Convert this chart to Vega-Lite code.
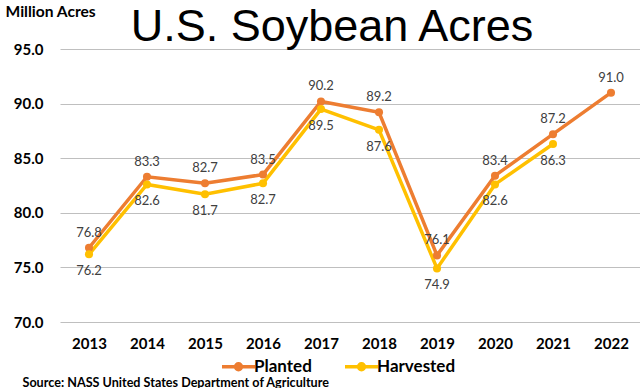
{
  "$schema": "https://vega.github.io/schema/vega-lite/v6.json",
  "width": 580,
  "height": 273,
  "autosize": {"type": "none"},
  "padding": {"left": 60, "top": 49, "right": 0, "bottom": 66},
  "background": "white",
  "title": {
    "text": "U.S. Soybean Acres",
    "font": "Liberation Sans",
    "fontSize": 45,
    "fontWeight": "normal",
    "color": "#000000",
    "anchor": "middle",
    "frame": "group",
    "dx": -18,
    "baseline": "alphabetic",
    "offset": -82
  },
  "config": {
    "view": {"stroke": null},
    "font": "Lato"
  },
  "data": {
    "values": [
      {"year": "2013", "series": "Planted", "value": 76.8},
      {"year": "2014", "series": "Planted", "value": 83.3},
      {"year": "2015", "series": "Planted", "value": 82.7},
      {"year": "2016", "series": "Planted", "value": 83.5},
      {"year": "2017", "series": "Planted", "value": 90.2},
      {"year": "2018", "series": "Planted", "value": 89.2},
      {"year": "2019", "series": "Planted", "value": 76.1},
      {"year": "2020", "series": "Planted", "value": 83.4},
      {"year": "2021", "series": "Planted", "value": 87.2},
      {"year": "2022", "series": "Planted", "value": 91.0},
      {"year": "2013", "series": "Harvested", "value": 76.2},
      {"year": "2014", "series": "Harvested", "value": 82.6},
      {"year": "2015", "series": "Harvested", "value": 81.7},
      {"year": "2016", "series": "Harvested", "value": 82.7},
      {"year": "2017", "series": "Harvested", "value": 89.5},
      {"year": "2018", "series": "Harvested", "value": 87.6},
      {"year": "2019", "series": "Harvested", "value": 74.9},
      {"year": "2020", "series": "Harvested", "value": 82.6},
      {"year": "2021", "series": "Harvested", "value": 86.3}
    ]
  },
  "encoding": {
    "x": {
      "field": "year",
      "type": "ordinal",
      "scale": {"type": "point", "padding": 0.5},
      "axis": {
        "labelAngle": 0,
        "labelFontSize": 15,
        "labelFontWeight": "bold",
        "labelColor": "#000000",
        "labelPadding": 14,
        "domain": false,
        "ticks": false,
        "grid": false,
        "title": "Source: NASS United States Department of Agriculture",
        "titleFontSize": 12.6,
        "titleFontWeight": "bold",
        "titleColor": "#000000",
        "titleAnchor": "start",
        "titleAlign": "left",
        "titleBaseline": "middle",
        "titleX": -38,
        "titleY": 60
      }
    },
    "y": {
      "field": "value",
      "type": "quantitative",
      "scale": {"domain": [70, 95], "nice": false, "zero": false},
      "axis": {
        "values": [70, 75, 80, 85, 90, 95],
        "format": ".1f",
        "labelFontSize": 15,
        "labelFontWeight": "bold",
        "labelColor": "#000000",
        "labelPadding": 17,
        "domain": false,
        "ticks": false,
        "gridColor": "#BFBFBF",
        "gridWidth": 1.2,
        "title": "Million Acres",
        "titleAngle": 0,
        "titleFontSize": 15.6,
        "titleFontWeight": "bold",
        "titleColor": "#000000",
        "titleAlign": "left",
        "titleBaseline": "middle",
        "titleX": -55,
        "titleY": -38
      }
    }
  },
  "layer": [
    {
      "mark": {"type": "line", "strokeWidth": 3.5, "point": {"filled": true, "size": 65}},
      "encoding": {
        "color": {
          "field": "series",
          "type": "nominal",
          "sort": ["Planted", "Harvested"],
          "scale": {"domain": ["Planted", "Harvested"], "range": ["#ED7D31", "#FFC000"]},
          "legend": {
            "title": null,
            "orient": "none",
            "legendX": 160,
            "legendY": 299,
            "direction": "horizontal",
            "symbolType": "M-1,0L1,0M0.18,0A0.18,0.18 0 1,1 -0.18,0A0.18,0.18 0 1,1 0.18,0Z",
            "symbolSize": 1089,
            "symbolStrokeWidth": 3.5,
            "labelFontSize": 17,
            "labelFontWeight": "bold",
            "labelColor": "#000000",
            "labelOffset": -3,
            "columnPadding": 26
          }
        }
      }
    },
    {
      "transform": [{"filter": "datum.series === 'Planted'"}],
      "mark": {"type": "text", "dy": -15, "fontSize": 13, "color": "#404040", "font": "Lato"},
      "encoding": {"text": {"field": "value", "type": "quantitative", "format": ".1f"}}
    },
    {
      "transform": [{"filter": "datum.series === 'Harvested'"}],
      "mark": {"type": "text", "dy": 17, "fontSize": 13, "color": "#404040", "font": "Lato"},
      "encoding": {"text": {"field": "value", "type": "quantitative", "format": ".1f"}}
    }
  ]
}
